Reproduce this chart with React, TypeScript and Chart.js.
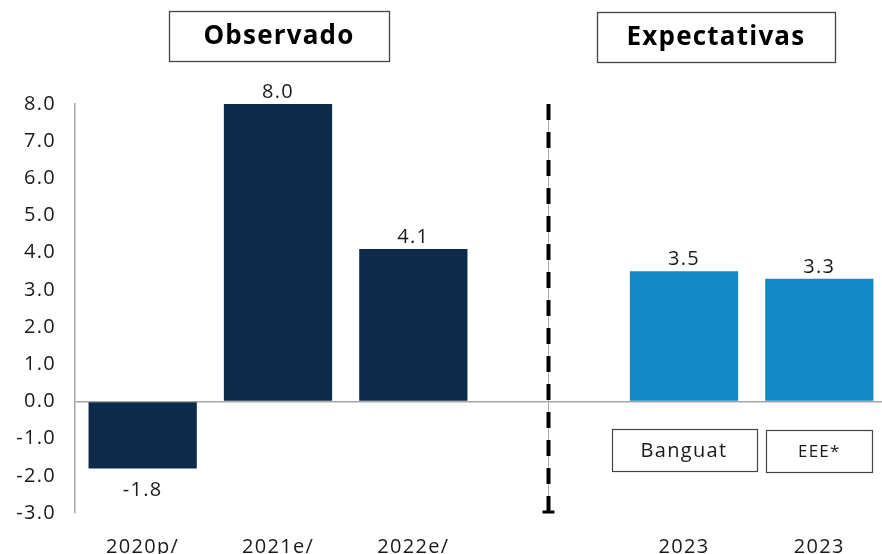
import React, { useEffect, useRef } from "react";
import { Chart, registerables } from "chart.js";

Chart.register(...registerables);

const FONT = '"Open Sans", "Noto Sans", sans-serif';

const categories = ["2020p/", "2021e/", "2022e/", "", "2023", "2023"];
const growthValues: (number | null)[] = [-1.8, 8.0, 4.1, null, 3.5, 3.3];
const valueLabels = ["-1.8", "8.0", "4.1", "", "3.5", "3.3"];
const barGroups = ["observado", "observado", "observado", "", "expectativa", "expectativa"];
const sourceLabels = ["", "", "", "", "Banguat", "EEE*"];
const sectionTitles = ["Observado", "Expectativas"];
const yMin = -3;
const yMax = 8;

const NAVY = "#0d2a4a";
const BLUE = "#1589c6";
const TEXT = "#1a1a1a";
const GRAY = "#a6a6a6";
const SPACING = "1.3px";

const spacingPlugin = {
  id: "spacing",
  beforeLayout(chart: any) {
    (chart.ctx as any).letterSpacing = SPACING;
  },
  beforeDraw(chart: any) {
    (chart.ctx as any).letterSpacing = SPACING;
  },
};

const overlayPlugin = {
  id: "overlay",
  afterDatasetsDraw(chart: any) {
    const { ctx, chartArea, scales } = chart;
    const xs = scales.x;
    ctx.save();
    ctx.letterSpacing = SPACING;
    // value labels
    const meta = chart.getDatasetMeta(0);
    meta.data.forEach((bar: any, i: number) => {
      const v = growthValues[i];
      if (v == null) return;
      ctx.font = `20px ${FONT}`;
      ctx.fillStyle = TEXT;
      ctx.textAlign = "center";
      ctx.textBaseline = "alphabetic";
      if (v >= 0) ctx.fillText(valueLabels[i], bar.x, bar.y - 6);
      else ctx.fillText(valueLabels[i], bar.x, bar.y + 28);
    });

    // divider
    const xd = Math.round(xs.getPixelForValue(3)) - 0.5;
    ctx.strokeStyle = GRAY;
    ctx.lineWidth = 1;
    ctx.beginPath();
    ctx.moveTo(xd, chartArea.top);
    ctx.lineTo(xd, chartArea.bottom);
    ctx.stroke();
    ctx.strokeStyle = "#000";
    ctx.lineWidth = 4;
    ctx.setLineDash([16, 12]);
    ctx.beginPath();
    ctx.moveTo(xd, chartArea.top);
    ctx.lineTo(xd, chartArea.bottom - 14);
    ctx.stroke();
    ctx.setLineDash([]);
    ctx.beginPath();
    ctx.moveTo(xd, chartArea.bottom - 14);
    ctx.lineTo(xd, chartArea.bottom);
    ctx.stroke();
    ctx.lineWidth = 3;
    ctx.beginPath();
    ctx.moveTo(xd - 6, chartArea.bottom - 1);
    ctx.lineTo(xd + 6, chartArea.bottom - 1);
    ctx.stroke();

    // source boxes
    const boxW = [0, 0, 0, 0, 145, 106];
    sourceLabels.forEach((s, i) => {
      if (!s) return;
      const cx = xs.getPixelForValue(i);
      const w = boxW[i];
      const top = i === 4 ? 429 : 430;
      const h = 42;
      ctx.fillStyle = "#fff";
      ctx.fillRect(cx - w / 2, top, w, h);
      ctx.strokeStyle = "#444";
      ctx.lineWidth = 1.2;
      ctx.strokeRect(Math.round(cx - w / 2) + 0.5, top + 0.5, w, h);
      ctx.fillStyle = TEXT;
      ctx.font = `${i === 4 ? 20 : 17}px ${FONT}`;
      ctx.textAlign = "center";
      ctx.textBaseline = "middle";
      ctx.fillText(s, cx, top + h / 2 + 1);
    });

    // section titles
    const titleBoxes = [
      { x: 169, y: 11, w: 220, h: 50 },
      { x: 597, y: 12, w: 238, h: 50 },
    ];
    sectionTitles.forEach((t, i) => {
      const b = titleBoxes[i];
      ctx.strokeStyle = "#444";
      ctx.lineWidth = 1.3;
      ctx.strokeRect(b.x + 0.5, b.y + 0.5, b.w, b.h);
      ctx.fillStyle = "#000";
      ctx.font = `bold 26px ${FONT}`;
      ctx.letterSpacing = "1.2px";
      ctx.textAlign = "center";
      ctx.textBaseline = "middle";
      ctx.fillText(t, b.x + b.w / 2, b.y + b.h / 2 + 1);
    });
    ctx.restore();
  },
};

export default function App() {
  const ref = useRef<HTMLCanvasElement | null>(null);
  useEffect(() => {
    if (!ref.current) return;
    const chart = new Chart(ref.current, {
      type: "bar",
      data: {
        labels: categories,
        datasets: [
          {
            data: growthValues,
            backgroundColor: barGroups.map((g) => (g === "observado" ? NAVY : BLUE)),
            barPercentage: 0.8,
            categoryPercentage: 1,
          },
        ],
      },
      options: {
        animation: false,
        responsive: false,
        devicePixelRatio: 1,
        layout: { padding: { top: 104, left: 0, right: 0, bottom: 0 } },
        plugins: { legend: { display: false }, tooltip: { enabled: false } },
        scales: {
          x: {
            grid: { display: false },
            border: { display: false },
            ticks: {
              color: TEXT,
              font: { family: FONT, size: 20 },
              padding: 14,
              maxRotation: 0,
              autoSkip: false,
            },
            afterFit: (s: any) => {
              s.height = 67;
            },
          },
          y: {
            min: yMin,
            max: yMax,
            ticks: {
              stepSize: 1,
              color: TEXT,
              font: { family: FONT, size: 20 },
              padding: 19,
              callback: (v: any) => Number(v).toFixed(1),
            },
            grid: {
              drawTicks: false,
              color: (c: any) => (c.tick && c.tick.value === 0 ? GRAY : "rgba(0,0,0,0)"),
              lineWidth: 1.5,
            },
            border: { display: true, color: GRAY, width: 1.5 },
            afterFit: (s: any) => {
              s.width = 75;
            },
          },
        },
      },
      plugins: [spacingPlugin, overlayPlugin],
    });
    return () => chart.destroy();
  }, []);
  return (
    <div style={{ position: "fixed", left: 0, top: 0, width: 882, height: 554, overflow: "hidden", background: "#fff" }}>
      <canvas ref={ref} width={887} height={580} style={{ display: "block" }} />
    </div>
  );
}
